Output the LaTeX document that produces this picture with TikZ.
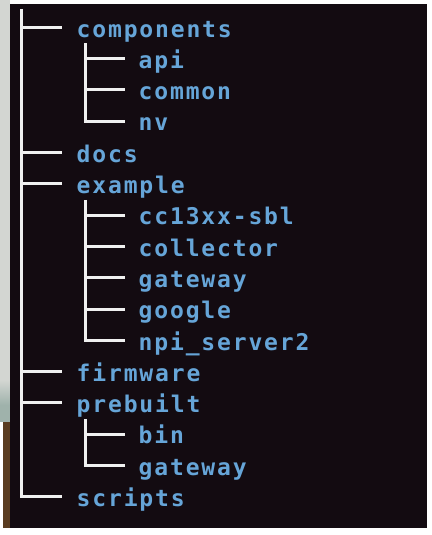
\documentclass[tikz,border=0pt]{standalone}
\usepackage{fontspec}
\newfontfamily\termfont{DejaVu Sans Mono}[LetterSpace=8]
\definecolor{termbg}{HTML}{130B11}
\definecolor{dirblue}{HTML}{66A5D8}
\definecolor{treeline}{HTML}{F0F0F0}
\definecolor{stripgray}{HTML}{D3D6D2}
\definecolor{stripteal}{HTML}{9FB2AB}
\definecolor{stripbrown}{HTML}{5A3C20}
\begin{document}
\begin{tikzpicture}[x=1pt,y=-1pt,
  dir/.style={font={\termfont\bfseries\fontsize{23pt}{23pt}\selectfont},
    text=dirblue, inner sep=0pt, text height=19.5pt, text depth=0pt, anchor=west},
  branch/.style={draw=treeline, line width=3pt, line join=miter},
]
% page, desktop strip and terminal window
\fill[white] (0,0) rectangle (431,535);
\useasboundingbox (0,0) rectangle (431,535);
\fill[stripgray] (0,0) rectangle (10,380);
\shade[top color=stripgray, bottom color=stripteal] (0,380) rectangle (10,405);
\fill[stripteal] (0,405) rectangle (10,422);
\fill[stripbrown] (3,422) rectangle (10,528);
\fill[termbg] (10,4) rectangle (427,528);

% top level entries
\node[dir] (components) at (76.5,27.3)  {components};
\node[dir] (docs)       at (76.5,152.5) {docs};
\node[dir] (example)    at (76.5,183.8) {example};
\node[dir] (firmware)   at (76.5,371.6) {firmware};
\node[dir] (prebuilt)   at (76.5,402.9) {prebuilt};
\node[dir] (scripts)    at (76.5,496.8) {scripts};

% components/
\node[dir] (api)    at (138.5,58.6)  {api};
\node[dir] (common) at (138.5,89.9)  {common};
\node[dir] (nv)     at (138.5,121.2) {nv};

% example/
\node[dir] (cc)        at (138.5,215.1) {cc13xx-sbl};
\node[dir] (collector) at (138.5,246.4) {collector};
\node[dir] (gatewayA)  at (138.5,277.7) {gateway};
\node[dir] (google)    at (138.5,309.0) {google};
\node[dir] (npi)       at (138.5,340.3) {npi\_server2};

% prebuilt/
\node[dir] (bin)      at (138.5,434.2) {bin};
\node[dir] (gatewayB) at (138.5,465.5) {gateway};

% trunk
\coordinate (trunk) at (21,9);
\draw[branch] (trunk) |- ([xshift=-14.5pt]scripts.west);
\foreach \n in {components,docs,example,firmware,prebuilt}
  \draw[branch] (trunk |- \n.west) -- ([xshift=-14.5pt]\n.west);

% sub-trees
\coordinate (subC) at (85,43.3);
\coordinate (subE) at (85,199.8);
\coordinate (subP) at (85,418.9);
\draw[branch] (subC) |- ([xshift=-13.5pt]nv.west);
\draw[branch] (subE) |- ([xshift=-13.5pt]npi.west);
\draw[branch] (subP) |- ([xshift=-13.5pt]gatewayB.west);
\foreach \n in {api,common}
  \draw[branch] (subC |- \n.west) -- ([xshift=-13.5pt]\n.west);
\foreach \n in {cc,collector,gatewayA,google}
  \draw[branch] (subE |- \n.west) -- ([xshift=-13.5pt]\n.west);
\draw[branch] (subP |- bin.west) -- ([xshift=-13.5pt]bin.west);
\end{tikzpicture}
\end{document}
